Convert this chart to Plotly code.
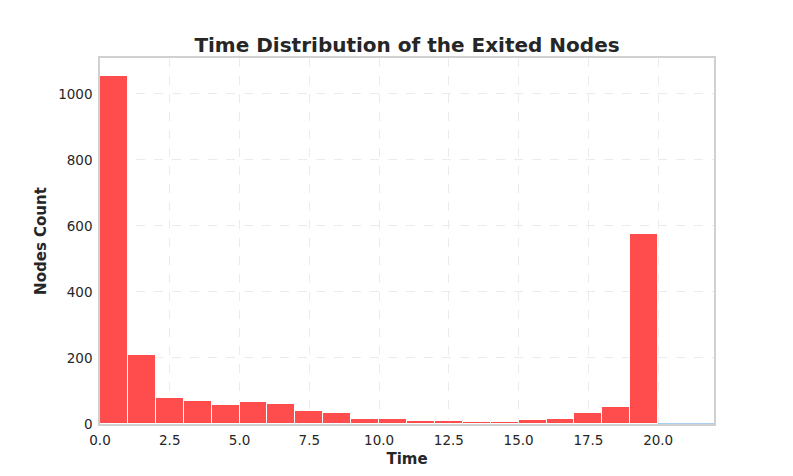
import plotly.graph_objects as go

# Histogram data: bin left edges (width 1) and counts
bin_left = list(range(0, 20))
counts = [1055, 209, 78, 70, 58, 67, 60, 38, 33, 15, 15, 9, 9, 6, 6, 13, 15, 32, 51, 577]
bin_width = 1.0

# Second (light blue) series
blue_left = [20]
blue_counts = [3]
blue_width = 2.0

x_ticks = [0, 2.5, 5, 7.5, 10, 12.5, 15, 17.5, 20]
x_tick_text = ["0.0", "2.5", "5.0", "7.5", "10.0", "12.5", "15.0", "17.5", "20.0"]
y_ticks = [0, 200, 400, 600, 800, 1000]

fig = go.Figure()
fig.add_trace(go.Bar(
    x=bin_left, y=counts, width=bin_width, offset=0,
    marker=dict(color="rgba(255,77,77,1)", line=dict(color="white", width=1)),
    showlegend=False,
))
fig.add_trace(go.Bar(
    x=blue_left, y=blue_counts, width=blue_width, offset=0,
    marker=dict(color="#a9cdef", line=dict(color="#a9cdef", width=0)),
    showlegend=False,
))

font_family = "DejaVu Sans"
fig.update_layout(
    width=793, height=476,
    margin=dict(l=92, r=87, t=50, b=60),
    paper_bgcolor="white", plot_bgcolor="white",
    bargap=0,
    font=dict(family=font_family, size=13.5, color="#262626"),
    title=dict(text="<b>Time Distribution of the Exited Nodes</b>",
               x=(92 + 307) / 793, xanchor="center", y=1 - 37 / 476, yanchor="middle",
               font=dict(family=font_family, size=20, color="#262626")),
    xaxis=dict(
        range=[0, 22], tickmode="array", tickvals=x_ticks, ticktext=x_tick_text,
        showgrid=True, gridcolor="#ebebeb", griddash="dash", gridwidth=1,
        zeroline=False, showline=True, linecolor="#d0d0d0", linewidth=1.5, mirror=True,
        ticks="", ticklabelstandoff=3, automargin=False, layer="below traces",
        tickfont=dict(size=13.5, color="#262626"),
        title=dict(text="<b>Time</b>", font=dict(size=15, color="#262626"), standoff=7),
    ),
    yaxis=dict(
        range=[0, 1109], tickmode="array", tickvals=y_ticks,
        showgrid=True, gridcolor="#ebebeb", griddash="dash", gridwidth=1,
        zeroline=False, showline=True, linecolor="#d0d0d0", linewidth=1.5, mirror=True,
        ticks="", ticklabelstandoff=3, automargin=False, layer="below traces",
        tickfont=dict(size=13.5, color="#262626"),
        title=dict(text="<b>Nodes Count</b>", font=dict(size=15, color="#262626"), standoff=8),
    ),
)

fig.write_html("out.html")
